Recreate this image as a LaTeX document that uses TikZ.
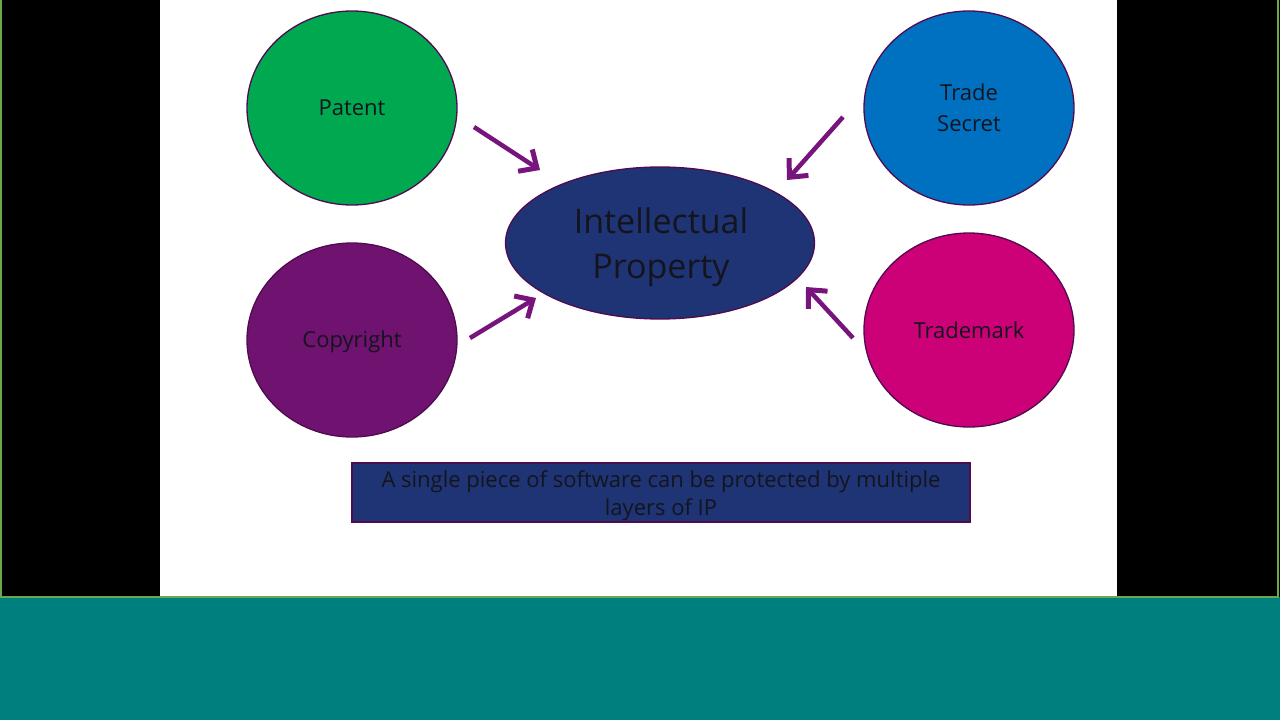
\documentclass[tikz,border=0pt]{standalone}
\usepackage{fontspec}
\setmainfont{Open Sans}
\usetikzlibrary{shapes.geometric,arrows.meta}
\definecolor{teal}{RGB}{0,127,127}
\definecolor{edgegreen}{RGB}{106,168,79}
\definecolor{pgreen}{RGB}{0,168,80}
\definecolor{tblue}{RGB}{0,112,192}
\definecolor{cpurple}{RGB}{112,18,112}
\definecolor{tmag}{RGB}{204,0,119}
\definecolor{navy}{RGB}{30,52,116}
\definecolor{outl}{RGB}{80,10,80}
\definecolor{arr}{RGB}{120,20,125}
\definecolor{txt}{RGB}{20,20,30}
\tikzset{
  blob/.style={ellipse, draw=outl, line width=1.3pt, inner sep=0pt, text=txt,
    minimum width=210pt, minimum height=194pt, align=center,
    font=\fontsize{22}{31}\selectfont},
  feed/.style={draw=arr, line width=4.5pt, -{Straight Barb[length=14pt,width=26pt,line width=5pt]}},
}
\begin{document}
\begin{tikzpicture}[x=1pt,y=-1pt]
\useasboundingbox (0,0) rectangle (1280,720);
\fill[black] (0,0) rectangle (1280,597);
\fill[white] (160,0) rectangle (1117,597);
\fill[teal] (0,597) rectangle (1280,720);
\draw[edgegreen, line width=1.5pt] (1,0) -- (1,597) -- (1278,597) -- (1278,0);
\node[blob, fill=pgreen] (pat) at (352,108) {Patent};
\node[blob, fill=tblue] (ts) at (969,108) {Trade\\Secret};
\node[blob, fill=cpurple] (cop) at (352,340) {};
\node[text=txt, font=\fontsize{22}{31}\selectfont, inner sep=0pt] (coplabel) at (352,342) {Copyright};
\node[blob, fill=tmag] (tm) at (969,330) {Trademark};
\node[ellipse, draw=outl, line width=1.3pt, fill=navy, inner sep=0pt,
  minimum width=309pt, minimum height=152pt] (ip) at (660,243) {};
\node[text=txt, align=center, font=\fontsize{34}{45}\selectfont, inner sep=0pt]
  (iplabel) at (661,247) {Intellectual\\Property};
\node[draw=outl, line width=1.3pt, fill=navy, minimum width=618pt,
  minimum height=59pt, inner sep=0pt] (note) at (661,492.5) {};
\node[text=txt, align=center, font=\fontsize{22}{28}\selectfont, inner sep=0pt]
  (notelabel) at (661,496) {A single piece of software can be protected by multiple\\layers of IP};
\coordinate (a1s) at (474,127); \coordinate (a1e) at (540,170);
\coordinate (a2s) at (843,117); \coordinate (a2e) at (787,180);
\coordinate (a3s) at (470,338); \coordinate (a3e) at (536,298);
\coordinate (a4s) at (853,338); \coordinate (a4e) at (806,287);
\draw[feed] (a1s) -- (a1e);
\draw[feed] (a2s) -- (a2e);
\draw[feed] (a3s) -- (a3e);
\draw[feed] (a4s) -- (a4e);
\end{tikzpicture}
\end{document}
